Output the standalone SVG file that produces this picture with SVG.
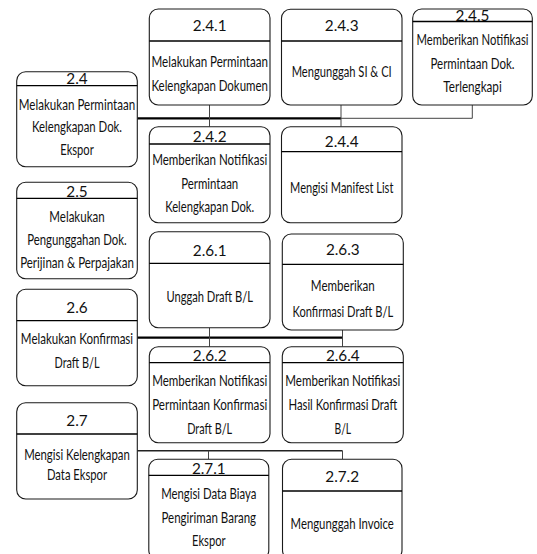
<svg xmlns="http://www.w3.org/2000/svg" width="537" height="554" viewBox="0 0 537 554">
<style>
.box{fill:#fff;stroke:#1a1a1a;stroke-width:1.1}
.dv{stroke:#000;stroke-width:1.3}
.t{font-family:Lato,"Liberation Sans",sans-serif;font-size:15.3px;fill:#111;text-anchor:middle}
.thick{stroke:#000;stroke-width:2.2;fill:none}
.thin{stroke:#444;stroke-width:1;fill:none}
.mid{stroke:#222;stroke-width:1.4;fill:none}
</style>
<rect width="537" height="554" fill="#fff"/>
<g id="connectors">
<line class="thick" x1="137.3" y1="118.3" x2="341" y2="118.3"/>
<polyline class="thin" points="341,118.3 472.3,118.3 472.3,105"/>
<line class="thin" x1="209.5" y1="105" x2="209.5" y2="126.7"/>
<line class="thin" x1="341" y1="105" x2="341" y2="126.7"/>
<line class="thick" x1="137.3" y1="337.7" x2="342.5" y2="337.7"/>
<line class="thin" x1="209.5" y1="327.7" x2="209.5" y2="346.7"/>
<line class="thin" x1="342.5" y1="330" x2="342.5" y2="346.7"/>
<line class="mid" x1="137.3" y1="450.7" x2="342.5" y2="450.7"/>
<line class="thin" x1="208.5" y1="450.7" x2="208.5" y2="459.3"/>
<line class="thin" x1="342.5" y1="450.7" x2="342.5" y2="459.3"/>
</g>
<g id="n2_4">
<rect class="box" x="16.7" y="71.7" width="120.6" height="95" rx="9"/>
<line class="dv" x1="16.7" y1="85.7" x2="137.3" y2="85.7"/>
<text class="t" x="77" y="84">2.4</text>
<text class="t" x="77" y="110" textLength="116.4" lengthAdjust="spacingAndGlyphs">Melakukan Permintaan</text>
<text class="t" x="77" y="131.5" textLength="90" lengthAdjust="spacingAndGlyphs">Kelengkapan Dok.</text>
<text class="t" x="77" y="155" textLength="33.5" lengthAdjust="spacingAndGlyphs">Ekspor</text>
</g>
<g id="n2_5">
<rect class="box" x="16.7" y="182.3" width="120.6" height="96.4" rx="9"/>
<line class="dv" x1="16.7" y1="198.3" x2="137.3" y2="198.3"/>
<text class="t" x="77" y="196.5">2.5</text>
<text class="t" x="77" y="222" textLength="55.4" lengthAdjust="spacingAndGlyphs">Melakukan</text>
<text class="t" x="77" y="244.5" textLength="99.5" lengthAdjust="spacingAndGlyphs">Pengunggahan Dok.</text>
<text class="t" x="77" y="268" textLength="113.7" lengthAdjust="spacingAndGlyphs">Perijinan &amp; Perpajakan</text>
</g>
<g id="n2_6">
<rect class="box" x="16.7" y="289.3" width="120.6" height="96.4" rx="9"/>
<line class="dv" x1="16.7" y1="320.7" x2="137.3" y2="320.7"/>
<text class="t" x="77" y="313">2.6</text>
<text class="t" x="77" y="344" textLength="112.3" lengthAdjust="spacingAndGlyphs">Melakukan Konfirmasi</text>
<text class="t" x="77" y="367.5" textLength="45" lengthAdjust="spacingAndGlyphs">Draft B/L</text>
</g>
<g id="n2_7">
<rect class="box" x="16.7" y="402.7" width="120.6" height="96.3" rx="9"/>
<line class="dv" x1="16.7" y1="434" x2="137.3" y2="434"/>
<text class="t" x="77" y="425.5">2.7</text>
<text class="t" x="77" y="460" textLength="105.7" lengthAdjust="spacingAndGlyphs">Mengisi Kelengkapan</text>
<text class="t" x="77" y="479.5" textLength="60" lengthAdjust="spacingAndGlyphs">Data Ekspor</text>
</g>
<g id="n2_4_1">
<rect class="box" x="149.3" y="9" width="120.7" height="96" rx="9"/>
<line class="dv" x1="149.3" y1="41" x2="270" y2="41"/>
<text class="t" x="209.7" y="30.5">2.4.1</text>
<text class="t" x="209.7" y="66.5" textLength="116.5" lengthAdjust="spacingAndGlyphs">Melakukan Permintaan</text>
<text class="t" x="209.7" y="90.5" textLength="116.5" lengthAdjust="spacingAndGlyphs">Kelengkapan Dokumen</text>
</g>
<g id="n2_4_2">
<rect class="box" x="149.3" y="126.7" width="120.7" height="96" rx="9"/>
<line class="dv" x1="149.3" y1="144" x2="270" y2="144"/>
<text class="t" x="209.7" y="141.5">2.4.2</text>
<text class="t" x="209.7" y="165" textLength="115" lengthAdjust="spacingAndGlyphs">Memberikan Notifikasi</text>
<text class="t" x="209.7" y="189" textLength="57" lengthAdjust="spacingAndGlyphs">Permintaan</text>
<text class="t" x="209.7" y="211.5" textLength="89" lengthAdjust="spacingAndGlyphs">Kelengkapan Dok.</text>
</g>
<g id="n2_6_1">
<rect class="box" x="149.3" y="231.7" width="120.7" height="96" rx="9"/>
<line class="dv" x1="149.3" y1="263.3" x2="270" y2="263.3"/>
<text class="t" x="209.7" y="255.5">2.6.1</text>
<text class="t" x="209.7" y="302" textLength="86.6" lengthAdjust="spacingAndGlyphs">Unggah Draft B/L</text>
</g>
<g id="n2_6_2">
<rect class="box" x="149.3" y="346.7" width="120.7" height="96" rx="9"/>
<line class="dv" x1="149.3" y1="362.7" x2="270" y2="362.7"/>
<text class="t" x="209.7" y="361">2.6.2</text>
<text class="t" x="209.7" y="385.5" textLength="115" lengthAdjust="spacingAndGlyphs">Memberikan Notifikasi</text>
<text class="t" x="209.7" y="410" textLength="115" lengthAdjust="spacingAndGlyphs">Permintaan Konfirmasi</text>
<text class="t" x="209.7" y="434" textLength="45" lengthAdjust="spacingAndGlyphs">Draft B/L</text>
</g>
<g id="n2_7_1">
<rect class="box" x="148.8" y="459.3" width="120" height="100" rx="9"/>
<line class="dv" x1="148.8" y1="475.3" x2="268.8" y2="475.3"/>
<text class="t" x="208.8" y="474">2.7.1</text>
<text class="t" x="208.8" y="499" textLength="95.2" lengthAdjust="spacingAndGlyphs">Mengisi Data Biaya</text>
<text class="t" x="208.8" y="523" textLength="94.6" lengthAdjust="spacingAndGlyphs">Pengiriman Barang</text>
<text class="t" x="208.8" y="545.5" textLength="33.5" lengthAdjust="spacingAndGlyphs">Ekspor</text>
</g>
<g id="n2_4_3">
<rect class="box" x="281.5" y="9.3" width="120.5" height="95.7" rx="9"/>
<line class="dv" x1="281.5" y1="41" x2="402" y2="41"/>
<text class="t" x="341.7" y="31">2.4.3</text>
<text class="t" x="341.7" y="77" textLength="100" lengthAdjust="spacingAndGlyphs">Mengunggah SI &amp; CI</text>
</g>
<g id="n2_4_4">
<rect class="box" x="281.5" y="126.7" width="120.5" height="96" rx="9"/>
<line class="dv" x1="281.5" y1="151.7" x2="402" y2="151.7"/>
<text class="t" x="341.7" y="146.5">2.4.4</text>
<text class="t" x="341.7" y="193" textLength="103.3" lengthAdjust="spacingAndGlyphs">Mengisi Manifest List</text>
</g>
<g id="n2_4_5">
<rect class="box" x="412.7" y="9" width="119.6" height="96" rx="9"/>
<line class="dv" x1="412.7" y1="21.5" x2="532.3" y2="21.5"/>
<text class="t" x="472.5" y="20.5">2.4.5</text>
<text class="t" x="472.5" y="45" textLength="112" lengthAdjust="spacingAndGlyphs">Memberikan Notifikasi</text>
<text class="t" x="472.5" y="69" textLength="84" lengthAdjust="spacingAndGlyphs">Permintaan Dok.</text>
<text class="t" x="472.5" y="92" textLength="58.4" lengthAdjust="spacingAndGlyphs">Terlengkapi</text>
</g>
<g id="n2_6_3">
<rect class="box" x="282.3" y="234" width="121" height="96" rx="9"/>
<line class="dv" x1="282.3" y1="264.3" x2="403.3" y2="264.3"/>
<text class="t" x="342.8" y="254.5">2.6.3</text>
<text class="t" x="342.8" y="290.5" textLength="64" lengthAdjust="spacingAndGlyphs">Memberikan</text>
<text class="t" x="342.8" y="316.5" textLength="100.6" lengthAdjust="spacingAndGlyphs">Konfirmasi Draft B/L</text>
</g>
<g id="n2_6_4">
<rect class="box" x="282.3" y="346.7" width="121" height="96" rx="9"/>
<line class="dv" x1="282.3" y1="362.7" x2="403.3" y2="362.7"/>
<text class="t" x="342.8" y="360.5">2.6.4</text>
<text class="t" x="342.8" y="385.5" textLength="115" lengthAdjust="spacingAndGlyphs">Memberikan Notifikasi</text>
<text class="t" x="342.8" y="410" textLength="108.7" lengthAdjust="spacingAndGlyphs">Hasil Konfirmasi Draft</text>
<text class="t" x="342.8" y="434" textLength="16.6" lengthAdjust="spacingAndGlyphs">B/L</text>
</g>
<g id="n2_7_2">
<rect class="box" x="282.5" y="459.3" width="119.5" height="100" rx="9"/>
<line class="dv" x1="282.5" y1="491" x2="402" y2="491"/>
<text class="t" x="342.2" y="482">2.7.2</text>
<text class="t" x="342.2" y="529" textLength="103.3" lengthAdjust="spacingAndGlyphs">Mengunggah Invoice</text>
</g>
</svg>
